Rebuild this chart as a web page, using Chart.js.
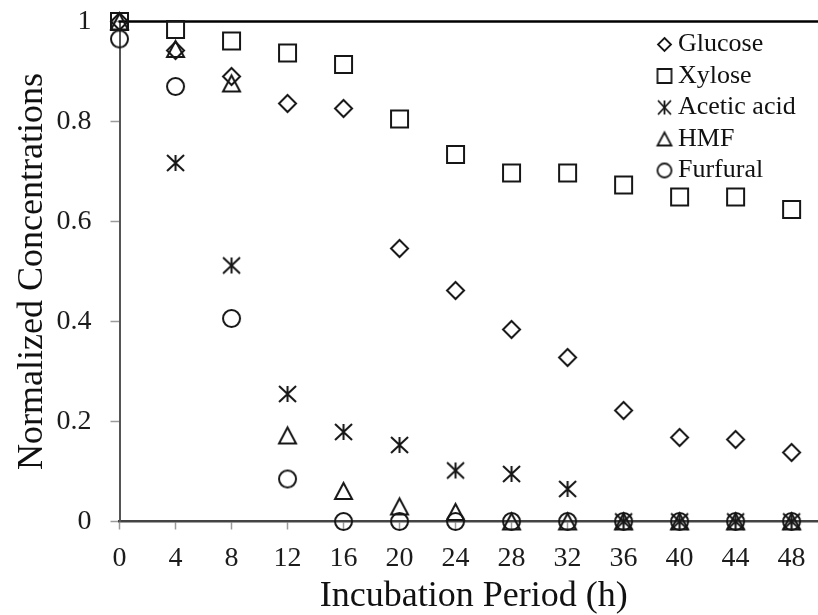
<!DOCTYPE html>
<html><head><meta charset="utf-8">
<script src="https://cdn.jsdelivr.net/npm/chart.js@4.4.0/dist/chart.umd.min.js"></script>
<style>
html,body{margin:0;padding:0;background:#fff;overflow:hidden;width:818px;height:615px}
#wrap{position:absolute;left:0;top:0;width:833px;height:615px}
</style>
</head><body><div id="wrap"><canvas id="c" width="833" height="615"></canvas></div>
<script>
// ---- data ----
const hours = [0, 4, 8, 12, 16, 20, 24, 28, 32, 36, 40, 44, 48];
const seriesNames = ['Glucose', 'Xylose', 'Acetic acid', 'HMF', 'Furfural'];
const glucose  = [1.000, 0.942, 0.890, 0.836, 0.826, 0.546, 0.462, 0.384, 0.328, 0.222, 0.168, 0.164, 0.138];
const xylose   = [1.000, 0.984, 0.961, 0.937, 0.914, 0.805, 0.734, 0.697, 0.697, 0.673, 0.649, 0.649, 0.624];
const acetic   = [null,  0.717, 0.512, 0.255, 0.179, 0.153, 0.102, 0.095, 0.065, 0, 0, 0, 0];
const hmf      = [1.000, 0.945, 0.876, 0.172, 0.061, 0.030, 0.019, 0, 0, 0, 0, 0, 0];
const furfural = [0.965, 0.870, 0.406, 0.085, 0, 0, 0, 0, 0, 0, 0, 0, 0];
const xTickStep = 4;
const yTickStep = 0.2;

// ---- marker drawing ----
const INK = '#161616';
const FONT = '"Liberation Serif", "Times New Roman", serif';
function marker(type, w, h, lw) {
  const pad = Math.ceil(lw) + 1;
  const c = document.createElement('canvas');
  c.width = w + 2 * pad; c.height = h + 2 * pad;
  const g = c.getContext('2d');
  g.strokeStyle = INK; g.lineWidth = lw; g.lineJoin = 'miter';
  const cx = c.width / 2, cy = c.height / 2, rx = w / 2, ry = h / 2;
  g.beginPath();
  if (type === 'diamond') { g.moveTo(cx, cy - ry); g.lineTo(cx + rx, cy); g.lineTo(cx, cy + ry); g.lineTo(cx - rx, cy); g.closePath(); }
  else if (type === 'square') { g.rect(cx - rx, cy - ry, w, h); }
  else if (type === 'triangle') { g.moveTo(cx, cy - ry); g.lineTo(cx + rx, cy + ry); g.lineTo(cx - rx, cy + ry); g.closePath(); }
  else if (type === 'circle') { g.ellipse(cx, cy, rx, ry, 0, 0, Math.PI * 2); }
  else if (type === 'asterisk') {
    g.moveTo(cx - rx, cy - ry); g.lineTo(cx + rx, cy + ry);
    g.moveTo(cx + rx, cy - ry); g.lineTo(cx - rx, cy + ry);
    g.moveTo(cx, cy - ry); g.lineTo(cx, cy + ry);
  }
  g.stroke();
  return c;
}
const types = ['diamond', 'square', 'asterisk', 'triangle', 'circle'];
const plotSizes = { diamond: [17, 17], square: [17, 17], asterisk: [17, 16], triangle: [17, 16], circle: [17, 17] };
const legSizes = { diamond: [13, 13], square: [14, 14], asterisk: [13, 14], triangle: [14, 13], circle: [14, 14] };
const plotMarkers = types.map(t => marker(t, plotSizes[t][0], plotSizes[t][1], 2));
const legendMarkers = types.map(t => marker(t, legSizes[t][0], legSizes[t][1], 1.8));

const values = [glucose, xylose, acetic, hmf, furfural];
const datasets = seriesNames.map((name, i) => ({
  label: name,
  data: hours.map((h, j) => ({ x: h, y: values[i][j] })).filter(p => p.y !== null),
  pointStyle: plotMarkers[i],
  showLine: false,
  clip: false,
  borderColor: INK,
  backgroundColor: 'transparent'
}));

const topBorder = {
  id: 'topBorder',
  beforeDatasetsDraw(chart) {
    const a = chart.chartArea, ctx = chart.ctx;
    ctx.save();
    ctx.strokeStyle = '#000'; ctx.lineWidth = 2.5;
    ctx.beginPath(); ctx.moveTo(a.left - 1, a.top); ctx.lineTo(a.right, a.top); ctx.stroke();
    ctx.restore();
  }
};
const legendInside = {
  id: 'legendInside',
  afterDatasetsDraw(chart) {
    const ctx = chart.ctx;
    ctx.save();
    ctx.font = '26px ' + FONT;
    ctx.fillStyle = '#111'; ctx.textBaseline = 'middle'; ctx.textAlign = 'left';
    chart.data.datasets.forEach((ds, i) => {
      const y = 44.5 + i * 31.5;
      const m = legendMarkers[i];
      ctx.drawImage(m, 664.5 - m.width / 2, y - m.height / 2);
      ctx.fillText(ds.label, 678, y);
    });
    ctx.restore();
  }
};

new Chart(document.getElementById('c'), {
  type: 'scatter',
  data: { datasets },
  plugins: [topBorder, legendInside],
  options: {
    responsive: false,
    animation: false,
    layout: { padding: { top: 21.5, left: 0, right: 0, bottom: 0 } },
    plugins: { legend: { display: false }, tooltip: { enabled: false } },
    scales: {
      x: {
        type: 'linear', min: 0, max: 50.6,
        afterBuildTicks: s => { s.ticks = s.ticks.filter(t => t.value <= 48); },
        afterFit: s => { s.height = 93.5; s.paddingLeft = 0; s.paddingRight = 0; },
        ticks: { stepSize: xTickStep, includeBounds: false, autoSkip: false, maxRotation: 0, padding: 15, color: '#1c1c1c', font: { family: FONT, size: 28, lineHeight: 1 } },
        grid: { drawOnChartArea: false, drawTicks: true, tickLength: 8, tickColor: '#9a9a9a', tickWidth: 1.5 },
        border: { display: true, color: '#444', width: 2.5 },
        title: { display: true, text: 'Incubation Period (h)', color: '#111', font: { family: FONT, size: 36, lineHeight: 1 }, padding: { top: 0, bottom: 0 } }
      },
      y: {
        min: 0, max: 1,
        afterFit: s => { s.width = 119.5; s.paddingTop = 0; s.paddingBottom = 0; },
        ticks: { stepSize: yTickStep, padding: 19, color: '#1c1c1c', font: { family: FONT, size: 28, lineHeight: 1 },
                 callback: v => String(Math.round(v * 10) / 10) },
        grid: { drawOnChartArea: false, drawTicks: true, tickLength: 9, tickColor: '#9a9a9a', tickWidth: 1.5 },
        border: { display: true, color: '#555', width: 2 },
        title: { display: true, text: 'Normalized Concentrations', color: '#111', font: { family: FONT, size: 36, lineHeight: 1 }, padding: { top: 15, bottom: 0 } }
      }
    }
  }
});
</script>
</body></html>
